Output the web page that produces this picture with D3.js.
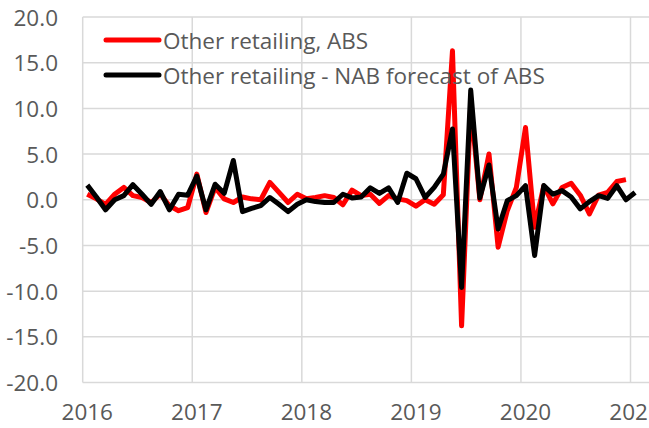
<!DOCTYPE html>
<html>
<head>
<meta charset="utf-8">
<script src="https://cdn.jsdelivr.net/npm/d3@7"></script>
<style>
  html, body { margin: 0; padding: 0; background: #fff; }
  svg { display: block; }
  text { font-family: "Open Sans", "Noto Sans", sans-serif; fill: #595959; }
</style>
</head>
<body>
<svg id="chart" width="649" height="428"></svg>
<script>
// ---- data ----
const startYear = 2016;
const yearLabels = ["2016", "2017", "2018", "2019", "2020", "2021"];
const yTickValues = [-20, -15, -10, -5, 0, 5, 10, 15, 20];
const seriesNames = ["Other retailing, ABS", "Other retailing - NAB forecast of ABS"];
// monthly % change, Jan 2016 onwards
const absValues = [
  0.6, 0.1, -0.5, 0.6, 1.35, 0.45, 0.25, -0.3, 0.6, -0.65, -1.2, -0.85,
  2.8, -1.4, 1.35, 0.1, -0.3, 0.3, 0.1, 0.0, 1.9, 0.8, -0.3, 0.6,
  0.1, 0.25, 0.45, 0.25, -0.55, 1.05, 0.45, 0.6, -0.4, 0.45, 0.1, -0.1,
  -0.7, 0.0, -0.5, 0.55, 16.3, -13.8, 10.5, 0.0, 5.0, -5.2, -1.2, 1.35,
  7.9, -3.0, 1.5, -0.45, 1.35, 1.8, 0.5, -1.55, 0.5, 0.8, 2.0, 2.2
];
const nabValues = [
  1.6, 0.3, -1.1, 0.0, 0.45, 1.65, 0.6, -0.5, 0.9, -1.1, 0.6, 0.5,
  2.6, -1.1, 1.7, 0.7, 4.3, -1.3, -0.95, -0.65, 0.25, -0.5, -1.3, -0.5,
  0.0, -0.2, -0.3, -0.3, 0.6, 0.2, 0.3, 1.3, 0.7, 1.3, -0.3, 2.9,
  2.3, 0.25, 1.35, 2.8, 7.75, -9.6, 12.0, 0.2, 3.8, -3.2, -0.1, 0.45,
  1.55, -6.1, 1.55, 0.6, 1.0, 0.3, -1.0, -0.2, 0.45, 0.15, 1.55, 0.0,
  0.8
];
const seriesColors = ["#ff0000", "#000000"];

// ---- layout ----
const svg = d3.select("#chart");
const plotLeft = 82.7, monthW = 9.13;
const fs = 22.5;
const x = d3.scaleLinear().domain([0, 72]).range([plotLeft, plotLeft + 72 * monthW]);
const y = d3.scaleLinear().domain([-20, 20]).range([382.5, 17]);
const grid = "#d9d9d9";

// horizontal gridlines
svg.append("g").selectAll("line").data(yTickValues).join("line")
  .attr("x1", plotLeft).attr("x2", 649)
  .attr("y1", d => y(d)).attr("y2", d => y(d))
  .attr("stroke", grid).attr("stroke-width", 1.5);
// vertical gridlines at each year
svg.append("g").selectAll("line").data(yearLabels).join("line")
  .attr("x1", (d, i) => x(i * 12)).attr("x2", (d, i) => x(i * 12))
  .attr("y1", y(20)).attr("y2", y(-20))
  .attr("stroke", grid).attr("stroke-width", 1.5);

// y labels
svg.append("g").selectAll("text").data(yTickValues).join("text")
  .attr("x", 58).attr("y", d => y(d))
  .attr("text-anchor", "end").attr("dominant-baseline", "central")
  .attr("font-size", fs)
  .text(d => d3.format(".1f")(d).replace("−", "-"));
// x labels
svg.append("g").selectAll("text").data(yearLabels).join("text")
  .attr("x", (d, i) => x(i * 12 + 0.5)).attr("y", 420)
  .attr("text-anchor", "middle")
  .attr("font-size", fs)
  .text(d => d);

// lines
const line = d3.line().x((d, i) => x(i + 0.5)).y(d => y(d));
[absValues, nabValues].forEach((vals, k) => {
  svg.append("path").datum(vals)
    .attr("fill", "none").attr("stroke", seriesColors[k])
    .attr("stroke-width", 5).attr("stroke-linejoin", "round")
    .attr("d", line);
});

// legend
const legY = [40, 75];
seriesNames.forEach((name, k) => {
  svg.append("line").attr("x1", 106).attr("x2", 159)
    .attr("y1", legY[k]).attr("y2", legY[k])
    .attr("stroke", seriesColors[k]).attr("stroke-width", 5).attr("stroke-linecap", "round");
  svg.append("text").attr("x", 163).attr("y", legY[k])
    .attr("dominant-baseline", "central").attr("font-size", fs)
    .text(name);
});
</script>
</body>
</html>
